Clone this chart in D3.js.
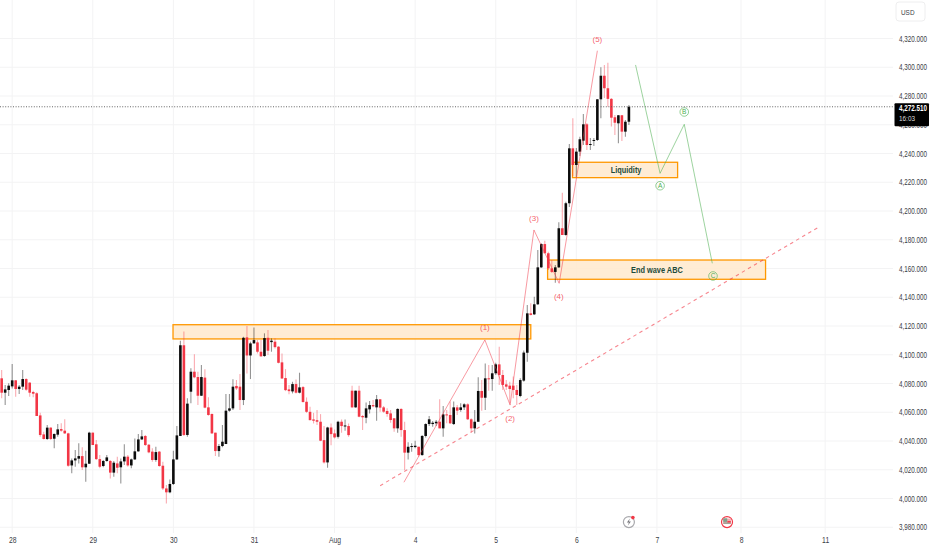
<!DOCTYPE html>
<html>
<head>
<meta charset="utf-8">
<title>Gold 1h Elliott wave</title>
<script src="https://cdn.jsdelivr.net/npm/d3@7"></script>
<style>
	body { margin: 0; background: #fff; font-family: "Liberation Sans", Arial, sans-serif; }
	svg { display: block; }
	.tick text { fill: #3a3d46; font-size: 8.5px; }
</style>
</head>
<body>
<div id="chart"></div>
<script>

// hourly candles. black = close above open, red = close below open
const opens = [4083.6,4073.6,4075.5,4078.0,4082.2,4076.2,4077.8,4083.1,4080.6,4074.1,4073.2,4057.8,4044.6,4041.4,4049.3,4041.6,4044.4,4048.3,4047.2,4045.3,
	4023.0,4026.5,4027.7,4029.5,4021.7,4024.2,4045.8,4037.7,4027.4,4022.6,4026.1,4026.1,4018.0,4024.4,4021.7,4025.8,4029.1,4023.0,4027.2,4032.8,
	4041.1,4043.5,4037.4,4032.6,4026.8,4032.6,4022.8,4007.0,4004.3,4010.1,4027.2,4043.5,4106.6,4044.2,4074.3,4088.2,4084.5,4071.5,4084.1,4063.4,
	4058.8,4045.8,4033.0,4036.5,4037.9,4061.1,4062.7,4078.3,4077.8,4068.5,4112.1,4099.5,4107.9,4108.6,4102.1,4099.1,4111.8,4108.8,4109.1,4105.6,
	4094.7,4083.8,4075.9,4074.5,4079.6,4073.6,4077.5,4067.3,4060.3,4055.0,4054.5,4053.4,4040.6,4025.1,4049.4,4045.3,4042.9,4053.4,4050.1,4050.4,
	4075.0,4063.4,4075.0,4057.4,4056.2,4062.0,4065.0,4063.4,4069.0,4063.4,4060.9,4059.2,4055.8,4048.8,4062.3,4047.6,4031.9,4035.8,4035.8,4036.0,
	4030.2,4043.5,4051.8,4051.8,4052.3,4053.4,4048.8,4058.5,4058.1,4051.8,4063.4,4061.6,4063.4,4065.5,4055.1,4048.8,4053.4,4074.8,4070.1,4083.6,
	4083.1,4087.1,4093.3,4085.9,4079.4,4078.5,4078.5,4075.5,4071.3,4082.0,4101.4,4128.8,4128.1,4135.1,4160.8,4177.0,4170.6,4160.1,4157.6,4160.8,
	4188.0,4183.3,4205.4,4243.6,4232.0,4241.3,4248.9,4260.3,4246.1,4248.7,4249.4,4277.7,4294.1,4285.4,4278.0,4265.2,4261.0,4266.6,4255.2,4262.1];
const highs = [4089.4,4079.0,4080.1,4093.6,4082.4,4079.0,4089.4,4083.6,4080.8,4075.0,4073.9,4059.7,4046.5,4051.1,4049.5,4045.3,4051.8,4052.3,4055.1,4045.8,
	4027.9,4033.7,4038.4,4035.6,4033.3,4046.5,4046.0,4040.7,4030.2,4026.8,4030.2,4026.8,4026.1,4029.1,4027.9,4037.7,4030.2,4027.9,4041.8,4044.9,
	4047.6,4044.2,4037.9,4034.9,4036.0,4033.0,4025.6,4009.4,4013.3,4033.3,4050.4,4109.8,4116.1,4069.7,4090.6,4100.3,4088.2,4092.9,4089.9,4070.4,
	4059.2,4045.8,4037.9,4051.1,4072.7,4072.7,4082.9,4082.4,4086.6,4112.5,4120.0,4109.1,4119.0,4110.2,4110.2,4114.9,4117.2,4111.4,4111.4,4106.0,
	4100.9,4090.0,4078.9,4081.2,4082.8,4087.5,4078.2,4070.3,4063.8,4059.6,4061.5,4058.7,4050.4,4049.9,4052.2,4048.0,4054.1,4055.0,4055.0,4052.2,
	4078.5,4075.0,4078.5,4058.1,4066.7,4067.8,4068.5,4072.0,4069.0,4064.3,4062.7,4061.6,4055.8,4062.7,4062.7,4053.4,4039.1,4038.4,4040.2,4036.0,
	4044.2,4052.3,4057.4,4053.9,4054.6,4069.0,4064.3,4061.6,4067.4,4067.4,4065.0,4066.2,4066.2,4066.2,4055.8,4061.6,4084.3,4082.4,4094.0,4092.9,
	4092.9,4094.5,4105.6,4089.4,4082.4,4081.3,4084.8,4079.0,4083.6,4102.9,4134.6,4135.8,4140.4,4172.9,4177.5,4179.3,4171.7,4165.9,4162.4,4192.1,
	4212.7,4206.5,4246.6,4264.5,4243.8,4251.7,4267.5,4261.2,4250.8,4250.8,4277.9,4300.0,4301.6,4303.2,4278.6,4266.8,4266.8,4266.8,4263.3,4273.8];
const lows = [4069.7,4065.0,4071.3,4076.6,4070.8,4072.7,4075.5,4075.0,4070.8,4070.4,4057.4,4043.0,4041.1,4040.7,4040.7,4034.9,4043.0,4046.5,4044.9,4022.1,
	4017.5,4022.1,4024.4,4019.8,4011.7,4024.0,4037.2,4026.8,4021.0,4021.7,4025.6,4014.0,4015.2,4017.5,4010.5,4023.3,4022.1,4021.0,4026.8,4032.6,
	4040.7,4036.5,4031.4,4025.6,4025.6,4022.1,4005.9,3996.6,4003.6,4009.4,4026.8,4043.5,4043.5,4043.0,4066.2,4083.6,4065.0,4071.3,4062.7,4057.6,
	4044.9,4029.5,4029.1,4035.6,4037.9,4060.4,4061.6,4075.5,4061.6,4065.0,4087.0,4083.1,4107.9,4100.9,4098.6,4098.6,4099.8,4102.1,4104.4,4094.0,
	4083.1,4074.7,4072.6,4073.1,4073.1,4073.1,4066.8,4059.6,4054.5,4052.2,4051.1,4039.9,4024.4,4021.4,4037.1,4041.8,4041.8,4045.7,4047.1,4042.9,
	4063.2,4063.2,4056.5,4047.6,4052.3,4059.2,4063.4,4054.1,4060.4,4059.7,4056.9,4052.7,4046.5,4045.8,4043.0,4019.8,4027.2,4032.6,4034.9,4029.1,
	4029.8,4042.5,4050.4,4050.0,4050.4,4048.8,4043.0,4052.3,4051.8,4051.1,4058.1,4060.4,4061.6,4054.6,4045.8,4045.3,4053.4,4061.1,4061.6,4075.0,
	4075.0,4085.9,4079.0,4075.5,4075.5,4066.2,4069.7,4065.0,4070.4,4081.3,4095.2,4127.3,4127.7,4134.6,4160.4,4170.6,4159.0,4156.9,4150.1,4160.4,
	4183.3,4182.8,4202.8,4224.4,4223.7,4238.3,4245.9,4242.4,4242.4,4245.2,4248.7,4264.5,4278.6,4272.6,4258.7,4252.9,4247.1,4248.7,4251.7,4259.8];
const closes = [4073.6,4075.9,4078.5,4082.2,4076.2,4077.8,4083.1,4075.7,4073.6,4072.9,4057.4,4044.2,4041.4,4049.3,4041.4,4044.9,4048.1,4047.2,4045.3,4022.8,
	4026.5,4027.9,4029.5,4021.7,4024.2,4045.8,4037.2,4027.4,4022.1,4026.1,4028.6,4018.0,4024.9,4021.4,4025.8,4029.1,4023.0,4027.2,4032.8,4041.1,
	4043.2,4037.2,4032.1,4026.8,4032.3,4022.6,4007.0,4004.3,4010.1,4027.2,4043.9,4106.6,4044.2,4066.0,4088.2,4084.3,4071.5,4084.5,4063.2,4058.1,
	4045.3,4033.0,4036.5,4039.5,4061.1,4062.7,4077.8,4076.6,4068.5,4111.8,4099.5,4107.9,4110.2,4102.1,4098.9,4111.6,4102.8,4109.8,4105.3,4094.4,
	4083.5,4075.4,4074.7,4079.6,4073.6,4077.3,4067.1,4060.3,4054.5,4054.1,4053.4,4040.2,4025.1,4049.4,4044.8,4042.5,4053.4,4050.4,4050.8,4044.1,
	4063.4,4075.0,4056.9,4056.5,4062.7,4065.0,4064.1,4069.0,4063.2,4060.4,4058.8,4054.6,4048.8,4062.3,4047.6,4031.9,4036.0,4036.5,4036.7,4030.2,
	4043.5,4051.8,4055.1,4052.7,4053.4,4048.8,4058.5,4057.8,4052.3,4063.4,4061.1,4063.4,4065.5,4055.1,4048.8,4053.4,4074.8,4070.1,4083.6,4082.9,
	4087.1,4093.3,4085.9,4079.0,4077.8,4076.2,4075.5,4072.0,4082.4,4101.5,4128.8,4127.7,4135.1,4160.8,4177.0,4170.6,4160.1,4157.6,4160.8,4188.0,
	4183.3,4205.4,4243.6,4232.0,4241.3,4249.9,4260.3,4245.9,4246.6,4249.4,4277.7,4294.1,4285.4,4278.0,4264.9,4261.4,4266.6,4255.2,4262.1,4272.51];

const priceTicks = d3.range(3980, 4321, 20);
const dayTicks = [3, 26, 49, 72, 95, 118, 141, 164, 187, 211, 235];
const dayLabels = ["28", "29", "30", "31", "Aug", "4", "5", "6", "7", "8", "11"];

const lastPrice = 4272.51;
const lastPriceText = "4,272.510";
const countdown = "16:03";
const currency = "USD";

// drawings, in candle number and price
const zones = [
	[48.9, 151.0, 4120.9, 4111.0],
	[162.9, 192.9, 4233.9, 4223.2],
	[155.8, 218.0, 4165.9, 4152.5]
];
const zoneLabels = [["Liquidity", 178.2, 4228.5], ["End wave ABC", 187.0, 4159.2]];
const redWave = [[114.8, 4011.3], [137.9, 4110.3], [145.1, 4065.0], [151.9, 4186.8], [159.1, 4149.7], [170.0, 4311.5]];
const redLabels = [["(1)", 137.9, 4119.3], ["(2)", 145.1, 4056.2], ["(3)", 151.9, 4194.7], ["(4)", 159.0, 4140.9], ["(5)", 170.0, 4319.2]];
const greenWave = [[180.9, 4301.6], [187.9, 4226.2], [194.8, 4260.3], [202.8, 4163.6]];
const greenLabels = [["A", 187.9, 4217.6], ["B", 194.8, 4268.9], ["C", 203.0, 4154.8]];
const trendLine = [[108.0, 4008.9], [233.1, 4188.7]];
const eventIcons = [179, 207];   // candle number of the two markers under the chart
const eventPrice = 3983.6;

// sizes
const width = 932;
const height = 550;
const plotRight = 893;
const plotBottom = 533;
const red = "#f23645";
const black = "#0c0c0c";
const orange = "#ff9800";
const green = "#4caf50";

const x = d3.scaleLinear().domain([0, 179]).range([1.67, 628.9]);
const y = d3.scaleLinear().domain([4000, 4320]).range([498.5, 38.5]);

// the reference text is narrower than Liberation Sans, so squeeze it sideways
function squeeze(sel, k) {
	sel.each(function() {
		const t = d3.select(this);
		const tx = +t.attr("x") || 0;
		const ty = +t.attr("y") || 0;
		t.attr("x", 0).attr("y", 0)
			.attr("transform", `translate(${tx},${ty}) scale(${k},1)`);
	});
}

const svg = d3.select("#chart").append("svg")
	.attr("width", width)
	.attr("height", height)
	.attr("viewBox", [0, 0, width, height]);

// grid
svg.append("g").selectAll("line").data(priceTicks).join("line")
	.attr("x1", 0).attr("x2", plotRight)
	.attr("y1", d => y(d)).attr("y2", d => y(d))
	.attr("stroke", "#f3f3f4");
svg.append("g").selectAll("line").data(dayTicks).join("line")
	.attr("x1", d => x(d)).attr("x2", d => x(d))
	.attr("y1", 0).attr("y2", plotBottom)
	.attr("stroke", "#f3f3f4");

// axes
svg.append("g")
	.attr("transform", `translate(${plotRight + 6},0)`)
	.call(d3.axisRight(y).tickValues(priceTicks).tickSize(0).tickPadding(0).tickFormat(d3.format(",.3f")))
	.call(g => g.select(".domain").remove())
	.call(g => g.selectAll(".tick text").call(squeeze, 0.74));
svg.append("g")
	.attr("transform", `translate(0,${plotBottom + 4})`)
	.call(d3.axisBottom(x).tickValues(dayTicks).tickSize(0).tickPadding(0).tickFormat((d, i) => dayLabels[i]))
	.call(g => g.select(".domain").remove())
	.call(g => g.selectAll(".tick text").call(squeeze, 0.8));

// zones go under the candles
svg.append("g").selectAll("rect").data(zones).join("rect")
	.attr("x", d => x(d[0]))
	.attr("y", d => y(d[2]))
	.attr("width", d => x(d[1]) - x(d[0]))
	.attr("height", d => y(d[3]) - y(d[2]))
	.attr("fill", "#ffe9cc")
	.attr("fill-opacity", 0.85)
	.attr("stroke", orange)
	.attr("stroke-width", 1.3);

// candles
const candles = d3.range(opens.length);
svg.append("g").selectAll("line").data(candles).join("line")
	.attr("x1", i => x(i)).attr("x2", i => x(i))
	.attr("y1", i => y(highs[i])).attr("y2", i => y(lows[i]))
	.attr("stroke", i => closes[i] >= opens[i] ? "#000" : red)
	.attr("stroke-opacity", 0.42)
	.attr("stroke-width", 1.1);
svg.append("g").selectAll("rect").data(candles).join("rect")
	.attr("x", i => x(i) - 1.3)
	.attr("width", 2.6)
	.attr("y", i => y(Math.max(opens[i], closes[i])))
	.attr("height", i => Math.max(1, Math.abs(y(opens[i]) - y(closes[i]))))
	.attr("fill", i => closes[i] >= opens[i] ? black : red);

// zone text sits on top of the candles
svg.append("g").selectAll("text").data(zoneLabels).join("text")
	.attr("x", d => x(d[1]))
	.attr("y", d => y(d[2]))
	.attr("dy", "0.35em")
	.attr("text-anchor", "middle")
	.attr("fill", "#1d4a3a")
	.attr("font-size", 9)
	.attr("font-weight", "bold")
	.text(d => d[0])
	.call(squeeze, 0.82);

// waves
const line = d3.line().x(d => x(d[0])).y(d => y(d[1]));
svg.append("path").attr("d", line(redWave))
	.attr("fill", "none").attr("stroke", red).attr("stroke-opacity", 0.5).attr("stroke-width", 1);
svg.append("path").attr("d", line(greenWave))
	.attr("fill", "none").attr("stroke", green).attr("stroke-opacity", 0.55).attr("stroke-width", 1);
svg.append("path").attr("d", line(trendLine))
	.attr("fill", "none").attr("stroke", red).attr("stroke-opacity", 0.6).attr("stroke-width", 1.1)
	.attr("stroke-dasharray", "3.5,3.5");

svg.append("g").selectAll("text").data(redLabels).join("text")
	.attr("x", d => x(d[1])).attr("y", d => y(d[2]))
	.attr("dy", "0.35em").attr("text-anchor", "middle")
	.attr("fill", red).attr("fill-opacity", 0.8).attr("font-size", 8)
	.text(d => d[0]);

const circled = svg.append("g").selectAll("g").data(greenLabels).join("g")
	.attr("transform", d => `translate(${x(d[1])},${y(d[2])})`);
circled.append("circle").attr("r", 4.3)
	.attr("fill", "none").attr("stroke", green).attr("stroke-opacity", 0.6);
circled.append("text").attr("dy", "0.35em").attr("text-anchor", "middle")
	.attr("fill", green).attr("font-size", 6.5)
	.text(d => d[0]);

// last price line and label
svg.append("line")
	.attr("x1", 0).attr("x2", plotRight)
	.attr("y1", y(lastPrice)).attr("y2", y(lastPrice))
	.attr("stroke", "#555").attr("stroke-width", 0.9).attr("stroke-dasharray", "1,1.6");
svg.append("rect")
	.attr("x", plotRight + 1.5).attr("y", y(lastPrice) - 3.5)
	.attr("width", 34.5).attr("height", 23).attr("rx", 1)
	.attr("fill", "#000");
svg.append("text")
	.attr("x", plotRight + 6).attr("y", y(lastPrice) + 1)
	.attr("dy", "0.35em")
	.attr("fill", "#fff").attr("font-size", 8.5).attr("font-weight", "bold")
	.text(lastPriceText)
	.call(squeeze, 0.74);
svg.append("text")
	.attr("x", plotRight + 6).attr("y", y(lastPrice) + 11)
	.attr("dy", "0.35em")
	.attr("fill", "#ddd").attr("font-size", 8)
	.text(countdown)
	.call(squeeze, 0.8);

// currency box
svg.append("rect")
	.attr("x", plotRight + 3).attr("y", 2).attr("width", 29).attr("height", 19).attr("rx", 3)
	.attr("fill", "#fff").attr("stroke", "#eeeeef");
svg.append("text")
	.attr("x", plotRight + 8).attr("y", 12)
	.attr("dy", "0.35em").attr("fill", "#3a3d46").attr("font-size", 8)
	.text(currency)
	.call(squeeze, 0.8);

// event markers
const flash = svg.append("g").attr("transform", `translate(${x(eventIcons[0])},${y(eventPrice)})`);
flash.append("circle").attr("r", 5.5).attr("fill", "#fff").attr("stroke", "#a8a8ac").attr("stroke-width", 1.2);
flash.append("path").attr("d", "M1,-3.5 L-2,0.5 L0,0.5 L-1,3.5 L2,-0.5 L0,-0.5 Z").attr("fill", "#77777c");
flash.append("circle").attr("cx", 4).attr("cy", -4.5).attr("r", 1.8).attr("fill", red);

const flag = svg.append("g").attr("transform", `translate(${x(eventIcons[1])},${y(eventPrice)})`);
flag.append("circle").attr("r", 5.5).attr("fill", "#fff").attr("stroke", red).attr("stroke-width", 1.2);
flag.append("rect").attr("x", -3.8).attr("y", -3.5).attr("width", 7.6).attr("height", 5.5).attr("fill", "#f6a9ae");
flag.append("rect").attr("x", -3.8).attr("y", -3.8).attr("width", 4).attr("height", 3.6).attr("fill", "#7fa08c");
flag.append("rect").attr("x", -3.8).attr("y", 0.4).attr("width", 7.6).attr("height", 1.2).attr("fill", "#7fa08c");
flag.append("rect").attr("x", 0.4).attr("y", -1).attr("width", 3.4).attr("height", 1.4).attr("fill", red);

</script>
</body>
</html>
